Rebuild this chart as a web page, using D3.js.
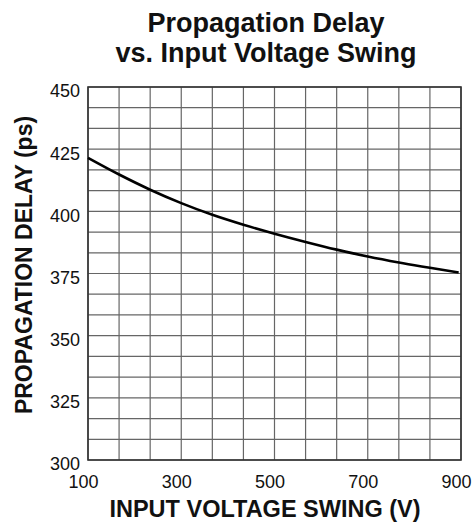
<!DOCTYPE html>
<html><head><meta charset="utf-8">
<script src="https://cdn.jsdelivr.net/npm/d3@7/dist/d3.min.js"></script>
<style>body{margin:0;background:#fff}svg{display:block}text{font-family:"Liberation Sans",Arial,sans-serif;font-weight:bold;fill:#111}</style>
</head><body>
<script>
const voltage = [100, 166.7, 233.3, 300, 366.7, 433.3, 500, 566.7, 633.3, 700, 766.7, 833.3, 895];
const delay   = [421.5, 414.8, 408.7, 403.3, 398.6, 394.6, 391.0, 387.7, 384.6, 381.8, 379.4, 377.3, 375.4];
const xTicks = [100, 300, 500, 700, 900];
const yTicks = [300, 325, 350, 375, 400, 425, 450];
const titleLines = ["Propagation Delay", "vs. Input Voltage Swing"];
const xTitle = "INPUT VOLTAGE SWING (V)";
const yTitle = "PROPAGATION DELAY (ps)";

const W = 474, H = 527;
const m = {left: 88, right: 13, top: 87, bottom: 67};
const svg = d3.select("body").append("svg").attr("width", W).attr("height", H);
const x = d3.scaleLinear().domain([100, 900]).range([m.left, W - m.right]);
const y = d3.scaleLinear().domain([300, 450]).range([H - m.bottom, m.top]);

const g = svg.append("g");
// grid
const xGrid = d3.range(0, 13).map(i => 100 + i * 800 / 12);
const yGrid = d3.range(0, 19).map(i => 300 + i * 150 / 18);
g.selectAll(".vx").data(xGrid).join("line")
  .attr("x1", d => x(d)).attr("x2", d => x(d)).attr("y1", y(300)).attr("y2", y(450))
  .attr("stroke", "#666").attr("stroke-width", 1.2);
g.selectAll(".hy").data(yGrid).join("line")
  .attr("x1", x(100)).attr("x2", x(900)).attr("y1", d => y(d)).attr("y2", d => y(d))
  .attr("stroke", "#666").attr("stroke-width", 1.2);
// frame
g.append("rect").attr("x", x(100)).attr("y", y(450)).attr("width", x(900) - x(100)).attr("height", y(300) - y(450))
  .attr("fill", "none").attr("stroke", "#333").attr("stroke-width", 1.6);

// axes labels via d3 axes
const yAxis = svg.append("g").attr("transform", `translate(${x(100)},0)`)
  .call(d3.axisLeft(y).tickValues(yTicks).tickSize(0).tickPadding(8));
yAxis.select(".domain").remove();
yAxis.selectAll("text").style("font-size", "18px").style("font-weight", "normal").attr("dy", "0.55em");
const xAxis = svg.append("g").attr("transform", `translate(0,${y(300)})`)
  .call(d3.axisBottom(x).tickValues(xTicks).tickSize(0).tickPadding(15));
xAxis.select(".domain").remove();
xAxis.selectAll("text").style("font-size", "18px").style("font-weight", "normal").attr("dx", "-5");

// curve
const line = d3.line().x((d, i) => x(voltage[i])).y(d => y(d)).curve(d3.curveMonotoneX);
svg.append("path").attr("d", line(delay)).attr("fill", "none").attr("stroke", "#000").attr("stroke-width", 2.6);

// titles
svg.selectAll(".title").data(titleLines).join("text")
  .attr("x", 266).attr("y", (d, i) => 32 + i * 30).attr("text-anchor", "middle")
  .style("font-size", "27px").text(d => d);
svg.append("text").attr("x", 265).attr("y", 517).attr("text-anchor", "middle").style("font-size", "23.5px").text(xTitle);
svg.append("text").attr("transform", "translate(32,265) rotate(-90)").attr("text-anchor", "middle").style("font-size", "23px").text(yTitle);
</script>
</body></html>
